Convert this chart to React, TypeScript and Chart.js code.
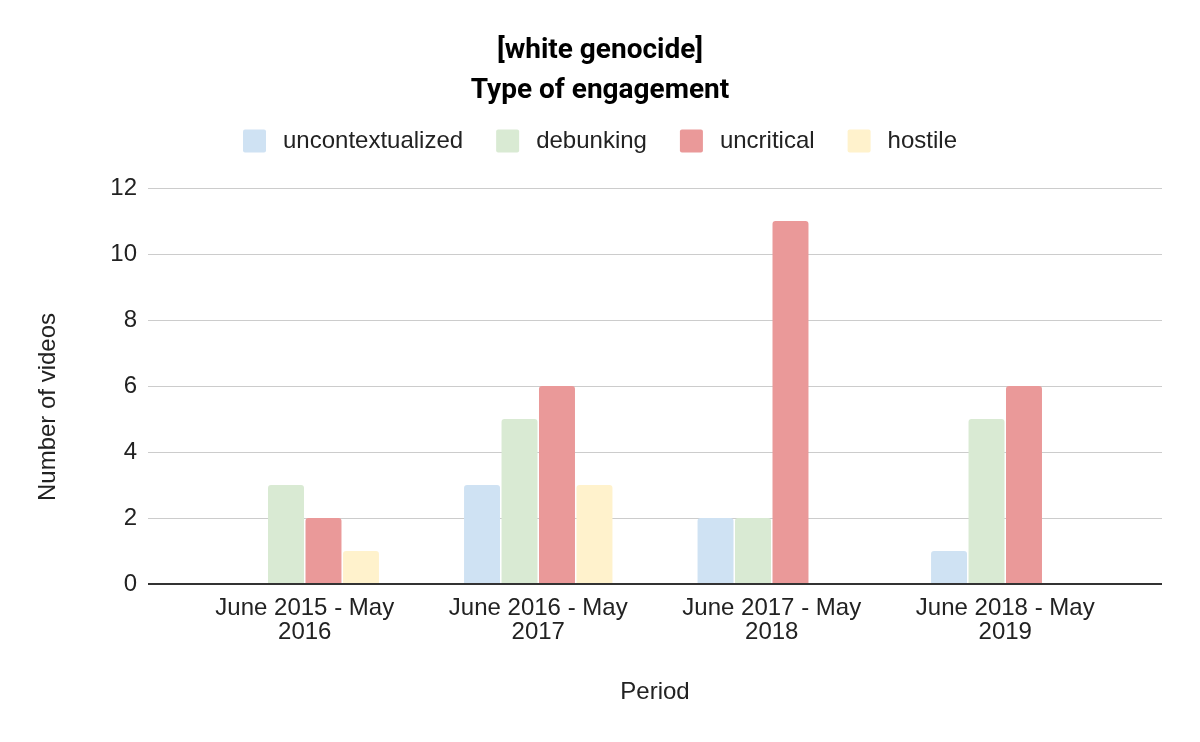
import React, { useEffect, useRef } from "react";
import { Chart, registerables } from "chart.js";

Chart.register(...registerables);

const categories: string[][] = [
  ["June 2015 - May", "2016"],
  ["June 2016 - May", "2017"],
  ["June 2017 - May", "2018"],
  ["June 2018 - May", "2019"],
];
const uncontextualized = [0, 3, 2, 1];
const debunking = [3, 5, 2, 5];
const uncritical = [2, 6, 11, 6];
const hostile = [1, 3, 0, 0];
const seriesNames = ["uncontextualized", "debunking", "uncritical", "hostile"];
const seriesColors = ["#cfe2f3", "#d9ead3", "#ea9999", "#fff2cc"];
const titleLines = ["[white genocide]", "Type of engagement"];
const yAxisTitle = "Number of videos";
const xAxisTitle = "Period";

const FONT = "'Liberation Sans', Arial, Helvetica, sans-serif";
const TITLE_FONT = "Roboto, 'Liberation Sans', Arial, sans-serif";

const extendedGrid = {
  id: "extendedGrid",
  beforeDatasetsDraw(chart: any) {
    const { ctx, chartArea, scales } = chart;
    const y = scales.y;
    const ext = 40;
    ctx.save();
    y.ticks.forEach((t: any) => {
      if (t.value === 0) return;
      const py = Math.round(y.getPixelForValue(t.value)) + 0.5;
      ctx.beginPath();
      ctx.lineWidth = 1;
      ctx.strokeStyle = "#cccccc";
      ctx.moveTo(chartArea.left - ext, py);
      ctx.lineTo(chartArea.right + ext, py);
      ctx.stroke();
    });
    ctx.restore();
  },
  afterDatasetsDraw(chart: any) {
    const { ctx, chartArea, scales } = chart;
    const y = scales.y;
    const ext = 40;
    const py = Math.round(y.getPixelForValue(0));
    ctx.save();
    ctx.beginPath();
    ctx.lineWidth = 2;
    ctx.strokeStyle = "#333333";
    ctx.moveTo(chartArea.left - ext, py);
    ctx.lineTo(chartArea.right + ext, py);
    ctx.stroke();
    ctx.restore();
  },
};

const yTitlePlugin = {
  id: "yTitlePlugin",
  afterDraw(chart: any) {
    const { ctx, chartArea } = chart;
    ctx.save();
    ctx.translate(48, (chartArea.top + chartArea.bottom) / 2 + 21);
    ctx.rotate(-Math.PI / 2);
    ctx.font = `24px ${FONT}`;
    ctx.fillStyle = "#222222";
    ctx.textAlign = "center";
    ctx.textBaseline = "middle";
    ctx.fillText(yAxisTitle, 0, 0);
    ctx.restore();
  },
};

const customLegend = {
  id: "customLegend",
  afterDraw(chart: any) {
    const { ctx } = chart;
    const box = 23;
    const gapText = 17;
    const gapItem = 33;
    const cy = 141;
    ctx.save();
    ctx.font = `24px ${FONT}`;
    const items = chart.data.datasets.map((d: any) => ({
      label: d.label,
      color: d.backgroundColor,
      w: ctx.measureText(d.label).width,
    }));
    const total =
      items.reduce((s: number, it: any) => s + box + gapText + it.w, 0) +
      gapItem * (items.length - 1);
    let x = chart.width / 2 - total / 2;
    items.forEach((it: any) => {
      ctx.fillStyle = it.color;
      ctx.beginPath();
      (ctx as any).roundRect(x, cy - box / 2, box, box, 2);
      ctx.fill();
      ctx.fillStyle = "#222222";
      ctx.textBaseline = "middle";
      ctx.textAlign = "left";
      ctx.fillText(it.label, x + box + gapText, cy);
      x += box + gapText + it.w + gapItem;
    });
    ctx.restore();
  },
};

export default function App() {
  const ref = useRef<HTMLCanvasElement>(null);
  useEffect(() => {
    document.body.style.margin = "0";
    const seriesData = [uncontextualized, debunking, uncritical, hostile];
    const chart = new Chart(ref.current!, {
      type: "bar",
      data: {
        labels: categories,
        datasets: seriesNames.map((name, i) => ({
          label: name,
          data: seriesData[i],
          backgroundColor: seriesColors[i],
          borderRadius: { topLeft: 3, topRight: 3, bottomLeft: 0, bottomRight: 0 },
          borderSkipped: "bottom" as const,
          categoryPercentage: 0.642,
          barPercentage: 0.96,
          yAxisID: "y",
        })),
      },
      options: {
        animation: false,
        responsive: false,
        maintainAspectRatio: false,
        layout: { padding: 0 },
        plugins: {
          title: {
            display: true,
            text: titleLines,
            color: "#000000",
            font: { family: TITLE_FONT, size: 28, weight: "bold", lineHeight: 40 / 28 },
            padding: { top: 31, bottom: 77 },
          },
          legend: { display: false },
          tooltip: { enabled: false },
        },
        scales: {
          x: {
            grid: { display: false, drawTicks: false },
            border: { display: false },
            ticks: {
              color: "#222222",
              font: { family: FONT, size: 24, lineHeight: 1 },
              padding: 12,
              maxRotation: 0,
              autoSkip: false,
            },
            title: {
              display: true,
              text: xAxisTitle,
              color: "#222222",
              font: { family: FONT, size: 24, lineHeight: 1.2 },
              padding: { top: 21.6, bottom: 35.6 },
            },
          },
          y: {
            position: "left",
            min: 0,
            max: 12,
            afterFit: (s: any) => {
              s.width = 188;
            },
            ticks: {
              stepSize: 2,
              color: "#222222",
              font: { family: FONT, size: 24 },
              padding: 51,
            },
            grid: { display: false, drawTicks: false },
            border: { display: false },
            title: { display: false },
          },
          yRight: {
            position: "right",
            display: true,
            afterFit: (s: any) => {
              s.width = 78;
            },
            ticks: { display: false },
            grid: { display: false, drawTicks: false },
            border: { display: false },
          },
        },
      },
      plugins: [extendedGrid, customLegend, yTitlePlugin],
    });
    return () => chart.destroy();
  }, []);
  return <canvas ref={ref} width={1200} height={742} style={{ display: "block" }} />;
}
